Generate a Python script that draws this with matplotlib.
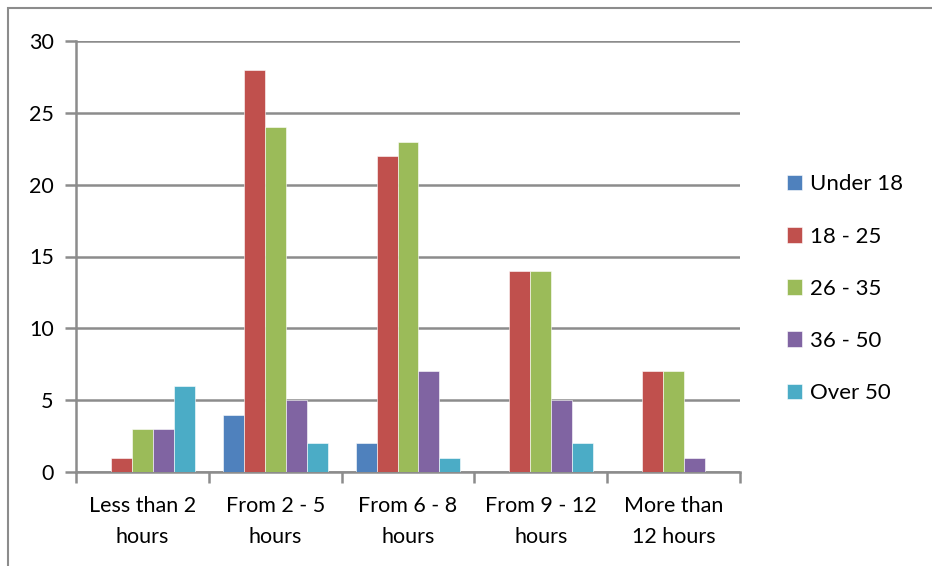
import matplotlib
matplotlib.use("Agg")
import matplotlib.pyplot as plt
import numpy as np
from matplotlib.patches import Rectangle

categories = ["Less than 2\nhours", "From 2 - 5\nhours", "From 6 - 8\nhours",
              "From 9 - 12\nhours", "More than\n12 hours"]
series = ["Under 18", "18 - 25", "26 - 35", "36 - 50", "Over 50"]
under_18 = [0, 4, 2, 0, 0]
age_18_25 = [1, 28, 22, 14, 7]
age_26_35 = [3, 24, 23, 14, 7]
age_36_50 = [3, 5, 7, 5, 1]
over_50 = [6, 2, 1, 2, 0]
values = [under_18, age_18_25, age_26_35, age_36_50, over_50]
colors = ["#4F81BD", "#C0504D", "#9BBB59", "#8064A2", "#4BACC6"]
yticks = [0, 5, 10, 15, 20, 25, 30]

plt.rcParams["font.family"] = ["Lato", "DejaVu Sans"]
grid_col = "#8c8c8c"

fig = plt.figure(figsize=(9.32, 5.66), dpi=100)
ax = fig.add_axes([76 / 932, 1 - 472 / 566, 664 / 932, 431 / 566])

x = np.arange(len(categories))
width = 0.158
for i, (name, vals, col) in enumerate(zip(series, values, colors)):
    ax.bar(x + (i - 2) * width, vals, width, color=col, label=name,
           edgecolor="white", linewidth=0.4, zorder=3)

ax.set_xlim(-0.5, len(categories) - 0.5)
ax.set_ylim(0, 30)
ax.set_yticks(yticks)
ax.set_yticklabels([str(v) for v in yticks], fontsize=15.5)
ax.yaxis.grid(True, color=grid_col, linewidth=1.8, zorder=0)
ax.tick_params(axis="y", length=8, width=1.8, color=grid_col, pad=8)

ax.set_xticks(x)
ax.set_xticklabels(categories, fontsize=15.5, linespacing=1.7)
ax.set_xticks(np.arange(-0.5, len(categories)), minor=True)
ax.tick_params(axis="x", which="major", length=0, pad=17)
ax.tick_params(axis="x", which="minor", length=8, width=1.8, color=grid_col)

for side in ["top", "right"]:
    ax.spines[side].set_visible(False)
for side in ["left", "bottom"]:
    ax.spines[side].set_color(grid_col)
    ax.spines[side].set_linewidth(1.8)

ax.legend(loc="center left", bbox_to_anchor=(1.04, 0.425), frameon=False,
          fontsize=16, handlelength=0.7, handleheight=0.7,
          handletextpad=0.35, labelspacing=1.45)

# outer chart border (cropped on right and bottom)
fig.patches.append(Rectangle((8 / 932, -0.05), 1.0, 1 - 8 / 566 + 0.05,
                             transform=fig.transFigure, fill=False,
                             edgecolor="#8c8c8c", linewidth=1.5))

fig.savefig("out.png", dpi=100)
